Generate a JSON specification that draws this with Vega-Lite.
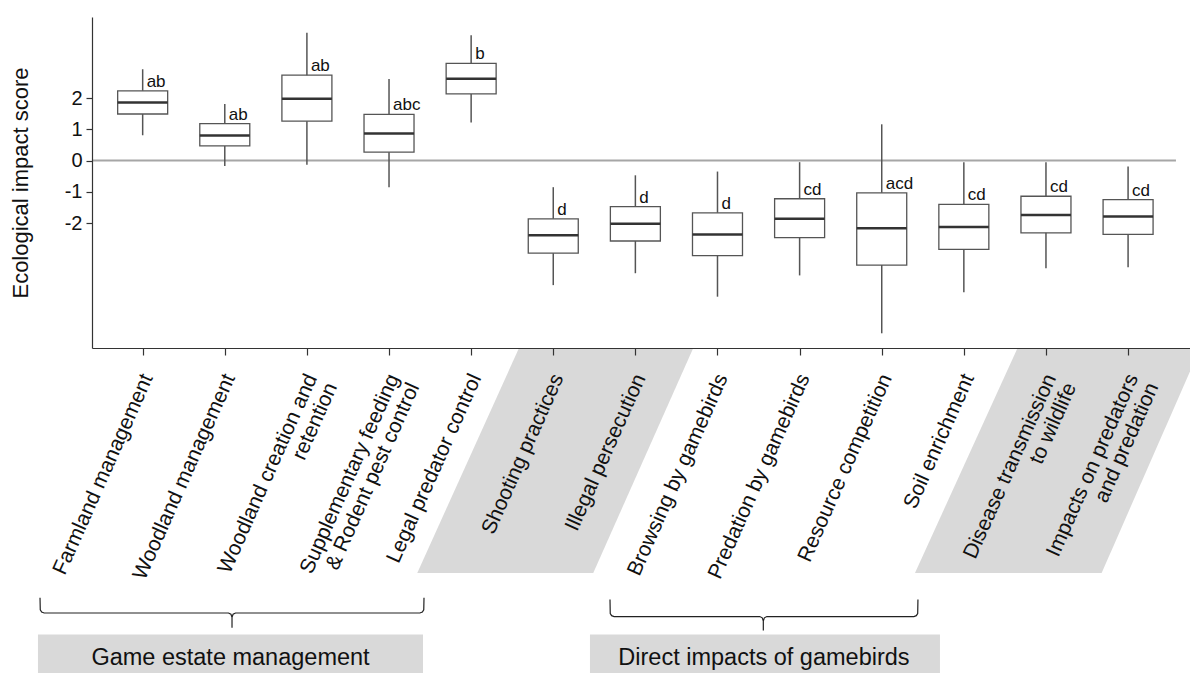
{
  "$schema": "https://vega.github.io/schema/vega-lite/v6.json",
  "width": 1098,
  "height": 331,
  "autosize": {"type": "none"},
  "padding": {"left": 92, "top": 17, "right": 0, "bottom": 325},
  "background": "white",
  "config": {
    "view": {"stroke": null},
    "font": "Liberation Sans, Arial, sans-serif",
    "scale": {"continuousPadding": 0},
    "axis": {"grid": false}
  },
  "datasets": {
    "boxes": [
      {"idx": 1, "name": "Farmland management", "min": 0.81, "q1": 1.49, "med": 1.86, "q3": 2.23, "max": 2.92, "letter": "ab"},
      {"idx": 2, "name": "Woodland management", "min": -0.17, "q1": 0.47, "med": 0.80, "q3": 1.18, "max": 1.81, "letter": "ab"},
      {"idx": 3, "name": "Woodland creation and\nretention", "min": -0.13, "q1": 1.26, "med": 1.98, "q3": 2.73, "max": 4.09, "letter": "ab"},
      {"idx": 4, "name": "Supplementary feeding\n& Rodent pest control", "min": -0.85, "q1": 0.27, "med": 0.87, "q3": 1.48, "max": 2.61, "letter": "abc"},
      {"idx": 5, "name": "Legal predator control", "min": 1.22, "q1": 2.13, "med": 2.62, "q3": 3.11, "max": 4.01, "letter": "b"},
      {"idx": 6, "name": "Shooting practices", "min": -3.98, "q1": -2.96, "med": -2.39, "q3": -1.86, "max": -0.85, "letter": "d"},
      {"idx": 7, "name": "Illegal persecution", "min": -3.60, "q1": -2.57, "med": -2.02, "q3": -1.47, "max": -0.47, "letter": "d"},
      {"idx": 8, "name": "Browsing by gamebirds", "min": -4.35, "q1": -3.04, "med": -2.36, "q3": -1.67, "max": -0.35, "letter": "d"},
      {"idx": 9, "name": "Predation by gamebirds", "min": -3.67, "q1": -2.46, "med": -1.86, "q3": -1.22, "max": -0.05, "letter": "cd"},
      {"idx": 10, "name": "Resource competition", "min": -5.52, "q1": -3.34, "med": -2.16, "q3": -1.03, "max": 1.16, "letter": "acd"},
      {"idx": 11, "name": "Soil enrichment", "min": -4.21, "q1": -2.84, "med": -2.12, "q3": -1.40, "max": -0.05, "letter": "cd"},
      {"idx": 12, "name": "Disease transmission\nto wildlife", "min": -3.44, "q1": -2.31, "med": -1.74, "q3": -1.14, "max": -0.05, "letter": "cd"},
      {"idx": 13, "name": "Impacts on predators\nand predation", "min": -3.41, "q1": -2.36, "med": -1.79, "q3": -1.25, "max": -0.19, "letter": "cd"}
    ],
    "para": [
      {"g": 1, "v": -5.99, "xl": 5.583, "xr": 7.705},
      {"g": 1, "v": -13.18, "xl": 4.344, "xr": 6.487},
      {"g": 2, "v": -5.99, "xl": 11.654, "xr": 13.88},
      {"g": 2, "v": -13.18, "xl": 10.405, "xr": 12.678}
    ],
    "groups": [
      {"name": "Game estate management", "xl": -0.275, "xr": 4.414, "xc": 2.07},
      {"name": "Direct impacts of gamebirds", "xl": 6.447, "xr": 10.709, "xc": 8.566}
    ],
    "braces": [
      {"b": 1, "o": 1, "x": -0.250, "y": -13.97},
      {"b": 1, "o": 2, "x": -0.247, "y": -14.36},
      {"b": 1, "o": 3, "x": -0.230, "y": -14.43},
      {"b": 1, "o": 4, "x": -0.200, "y": -14.46},
      {"b": 1, "o": 5, "x": 2.045, "y": -14.46},
      {"b": 1, "o": 6, "x": 2.075, "y": -14.50},
      {"b": 1, "o": 7, "x": 2.088, "y": -14.60},
      {"b": 1, "o": 8, "x": 2.088, "y": -14.93},
      {"b": 1, "o": 9, "x": 2.088, "y": -14.60},
      {"b": 1, "o": 10, "x": 2.101, "y": -14.50},
      {"b": 1, "o": 11, "x": 2.131, "y": -14.46},
      {"b": 1, "o": 12, "x": 4.376, "y": -14.46},
      {"b": 1, "o": 13, "x": 4.406, "y": -14.43},
      {"b": 1, "o": 14, "x": 4.423, "y": -14.36},
      {"b": 1, "o": 15, "x": 4.426, "y": -13.97},
      {"b": 2, "o": 1, "x": 6.691, "y": -14.03},
      {"b": 2, "o": 2, "x": 6.694, "y": -14.475},
      {"b": 2, "o": 3, "x": 6.711, "y": -14.545},
      {"b": 2, "o": 4, "x": 6.741, "y": -14.575},
      {"b": 2, "o": 5, "x": 8.515, "y": -14.575},
      {"b": 2, "o": 6, "x": 8.545, "y": -14.615},
      {"b": 2, "o": 7, "x": 8.558, "y": -14.715},
      {"b": 2, "o": 8, "x": 8.558, "y": -15.02},
      {"b": 2, "o": 9, "x": 8.558, "y": -14.715},
      {"b": 2, "o": 10, "x": 8.571, "y": -14.615},
      {"b": 2, "o": 11, "x": 8.601, "y": -14.575},
      {"b": 2, "o": 12, "x": 10.391, "y": -14.575},
      {"b": 2, "o": 13, "x": 10.421, "y": -14.545},
      {"b": 2, "o": 14, "x": 10.438, "y": -14.475},
      {"b": 2, "o": 15, "x": 10.441, "y": -14.03}
    ]
  },
  "layer": [
    {
      "data": {"name": "para"},
      "mark": {"type": "area", "orient": "horizontal", "color": "#d9d9d9", "opacity": 1},
      "encoding": {
        "y": {
          "field": "v", "type": "quantitative",
          "scale": {"domain": [-5.99, 4.59], "nice": false, "zero": false, "padding": 0},
          "axis": {
            "title": "Ecological impact score",
            "values": [-2, -1, 0, 1, 2],
            "labelExpr": "'' + datum.value",
            "grid": false, "zindex": 1,
            "tickSize": 6, "tickColor": "#333", "tickWidth": 1.2,
            "domainColor": "#333", "domainWidth": 1.2,
            "labelFontSize": 20, "labelColor": "#111", "labelPadding": 4,
            "labelFont": "Liberation Sans, Arial, sans-serif",
            "titleFontSize": 22, "titleFontWeight": "normal", "titleColor": "#111",
            "titleFont": "Liberation Sans, Arial, sans-serif",
            "titleX": -60, "titleY": 165.5, "titleAngle": 270,
            "titleAlign": "center", "titleBaseline": "bottom"
          }
        },
        "x": {
          "field": "xl", "type": "quantitative",
          "scale": {"domain": [0.383, 13.754], "nice": false, "zero": false, "padding": 0},
          "axis": {
            "title": null,
            "values": [1, 2, 3, 4, 5, 6, 7, 8, 9, 10, 11, 12, 13],
            "labels": false, "grid": false, "zindex": 1,
            "tickSize": 7, "tickColor": "#333", "tickWidth": 1.2,
            "domainColor": "#333", "domainWidth": 1.2
          }
        },
        "x2": {"field": "xr"},
        "detail": {"field": "g"}
      }
    },
    {
      "data": {"values": [{}]},
      "mark": {"type": "rule", "color": "#a6a6a6", "strokeWidth": 2},
      "encoding": {
        "x": {"datum": 0.383, "type": "quantitative"},
        "x2": {"datum": 13.583},
        "y": {"datum": 0, "type": "quantitative"}
      }
    },
    {
      "data": {"name": "boxes"},
      "mark": {"type": "rule", "color": "#555", "strokeWidth": 1.5},
      "encoding": {
        "x": {"field": "idx", "type": "quantitative"},
        "y": {"field": "min", "type": "quantitative"},
        "y2": {"field": "max"}
      }
    },
    {
      "data": {"name": "boxes"},
      "mark": {"type": "bar", "size": 50, "fill": "white", "stroke": "#555", "strokeWidth": 1.3, "orient": "vertical"},
      "encoding": {
        "x": {"field": "idx", "type": "quantitative"},
        "y": {"field": "q1", "type": "quantitative"},
        "y2": {"field": "q3"}
      }
    },
    {
      "data": {"name": "boxes"},
      "mark": {"type": "tick", "orient": "horizontal", "size": 50, "thickness": 2.5, "color": "#333", "opacity": 1},
      "encoding": {
        "x": {"field": "idx", "type": "quantitative"},
        "y": {"field": "med", "type": "quantitative"}
      }
    },
    {
      "data": {"name": "boxes"},
      "mark": {"type": "text", "align": "left", "baseline": "alphabetic", "dx": 4, "dy": -4, "fontSize": 17, "color": "#111"},
      "encoding": {
        "x": {"field": "idx", "type": "quantitative"},
        "y": {"field": "q3", "type": "quantitative"},
        "text": {"field": "letter"}
      }
    },
    {
      "data": {"name": "boxes"},
      "mark": {"type": "text", "angle": 294, "align": "right", "baseline": "top", "fontSize": 21, "color": "#111", "lineBreak": "\n", "lineHeight": 22, "dx": -2.0, "dy": -4.6},
      "encoding": {
        "x": {"field": "idx", "type": "quantitative"},
        "y": {"datum": -6.72, "type": "quantitative"},
        "text": {"field": "name"}
      }
    },
    {
      "data": {"name": "braces"},
      "mark": {"type": "line", "color": "#222", "strokeWidth": 1.2},
      "encoding": {
        "x": {"field": "x", "type": "quantitative"},
        "y": {"field": "y", "type": "quantitative"},
        "detail": {"field": "b"},
        "order": {"field": "o"}
      }
    },
    {
      "data": {"name": "groups"},
      "mark": {"type": "rect", "color": "#d9d9d9"},
      "encoding": {
        "x": {"field": "xl", "type": "quantitative"},
        "x2": {"field": "xr"},
        "y": {"datum": -15.15, "type": "quantitative"},
        "y2": {"datum": -16.8}
      }
    },
    {
      "data": {"name": "groups"},
      "mark": {"type": "text", "align": "center", "baseline": "alphabetic", "fontSize": 23.5, "color": "#111"},
      "encoding": {
        "x": {"field": "xc", "type": "quantitative"},
        "y": {"datum": -16.11, "type": "quantitative"},
        "text": {"field": "name"}
      }
    }
  ]
}
